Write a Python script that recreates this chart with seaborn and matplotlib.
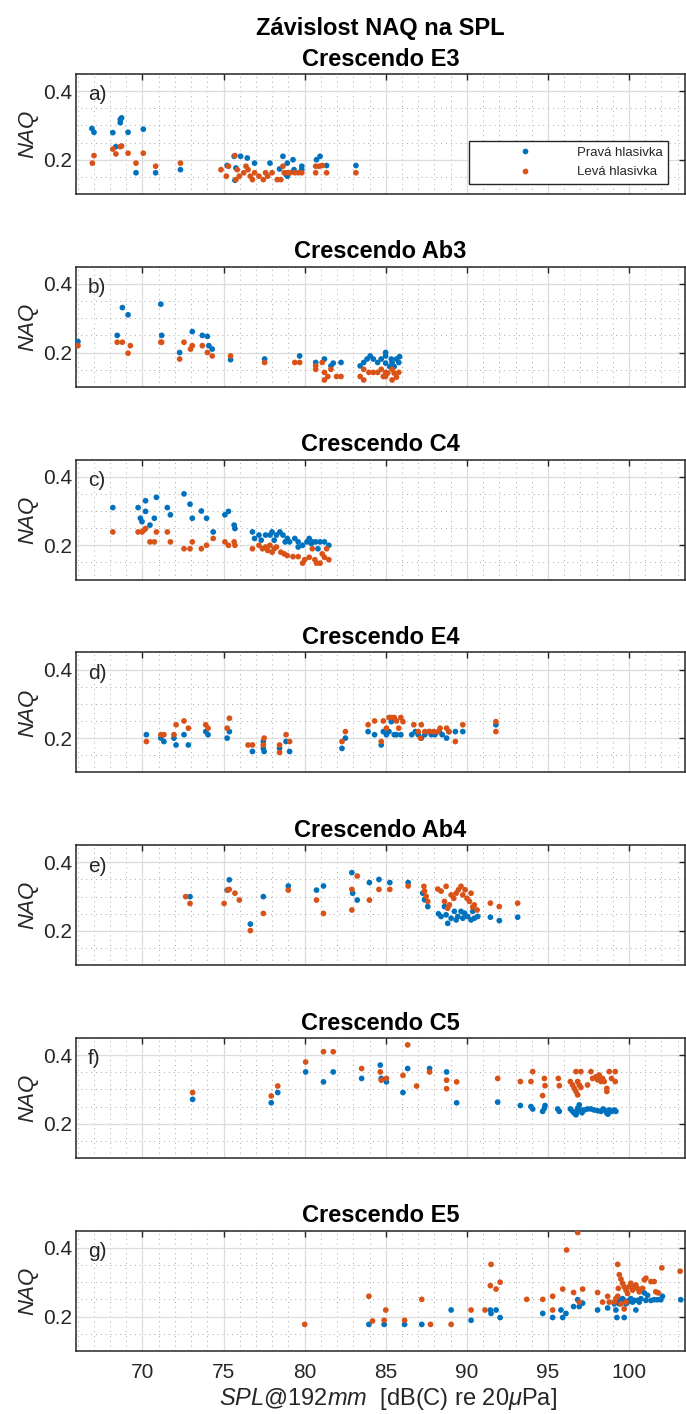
import matplotlib
matplotlib.use("Agg")
import matplotlib.pyplot as plt
from matplotlib.ticker import FixedLocator, MultipleLocator
import numpy as np
import pandas as pd
import seaborn as sns

# ---------------- data ----------------
suptitle_text = "Závislost NAQ na SPL"
panel_titles = ["Crescendo E3", "Crescendo Ab3", "Crescendo C4", "Crescendo E4",
                "Crescendo Ab4", "Crescendo C5", "Crescendo E5"]
panel_letters = ["a)", "b)", "c)", "d)", "e)", "f)", "g)"]
series_names = ["Pravá hlasivka", "Levá hlasivka"]
x_ticks = [70, 75, 80, 85, 90, 95, 100]
y_ticks = [0.2, 0.4]

# --- a) Crescendo E3
e3_prava_x = [66.88, 67.01, 68.17, 68.36, 68.63, 68.71, 68.63, 69.11, 69.6, 70.05, 70.81, 72.34,
              75.22, 75.70, 75.65, 76.05, 76.46, 76.91, 75.76, 77.86, 78.45, 78.66, 78.93, 79.28,
              78.85, 79.34, 79.82, 79.82, 80.73, 80.95, 81.35, 83.16, 78.93]
e3_prava_y = [0.291, 0.280, 0.279, 0.238, 0.317, 0.322, 0.308, 0.280, 0.162, 0.289, 0.162, 0.171,
              0.183, 0.140, 0.210, 0.210, 0.205, 0.190, 0.176, 0.190, 0.173, 0.210, 0.190, 0.200,
              0.157, 0.171, 0.181, 0.171, 0.200, 0.210, 0.183, 0.183, 0.152]
e3_leva_x = [66.91, 67.01, 68.17, 68.36, 68.63, 68.71, 69.11, 69.6, 70.05, 70.81, 72.34,
             74.84, 75.17, 75.30, 75.70, 75.84, 75.97, 75.76, 76.24, 76.38, 76.51, 76.65, 76.78,
             76.91, 77.18, 77.45, 77.59, 77.72, 77.99, 78.31, 78.53, 78.66, 78.74, 78.93, 79.12,
             79.39, 79.60, 79.82, 80.68, 80.90, 80.68, 81.35, 81.08, 83.16]
e3_leva_y = [0.190, 0.212, 0.231, 0.217, 0.238, 0.240, 0.219, 0.190, 0.219, 0.181, 0.190,
             0.171, 0.152, 0.181, 0.212, 0.171, 0.152, 0.142, 0.162, 0.181, 0.171, 0.152, 0.142,
             0.162, 0.152, 0.142, 0.162, 0.152, 0.162, 0.142, 0.142, 0.181, 0.162, 0.162, 0.162,
             0.162, 0.162, 0.162, 0.181, 0.181, 0.162, 0.162, 0.183, 0.162]

# --- b) Crescendo Ab3
ab3_prava_x = [66.02, 68.44, 68.76, 69.11, 71.13, 71.18, 72.29, 73.07, 73.69, 74.0, 74.09, 74.3,
               75.43, 77.53, 79.69, 80.68, 81.22, 81.62, 82.24, 81.76, 83.42, 83.64, 83.85, 84.04,
               84.23, 84.5, 84.72, 84.99, 84.99, 85.34, 85.39, 85.66, 85.8, 85.85, 85.52, 85.25, 84.99]
ab3_prava_y = [0.232, 0.250, 0.331, 0.310, 0.341, 0.250, 0.200, 0.261, 0.250, 0.247, 0.220, 0.210,
               0.179, 0.181, 0.190, 0.171, 0.181, 0.161, 0.171, 0.169, 0.161, 0.171, 0.181, 0.190,
               0.181, 0.171, 0.181, 0.190, 0.200, 0.181, 0.171, 0.181, 0.171, 0.188, 0.159, 0.159, 0.169]
ab3_leva_x = [66.02, 68.44, 68.76, 69.11, 69.25, 71.13, 71.18, 72.29, 72.56, 72.96, 73.07, 73.69,
              74.0, 74.3, 75.43, 77.53, 79.39, 79.69, 80.68, 80.68, 81.08, 81.22, 81.22, 81.43,
              81.62, 81.97, 82.24, 83.42, 83.64, 83.64, 83.96, 84.23, 84.5, 84.72, 84.99, 84.99,
              85.12, 85.52, 85.8, 85.39, 84.85, 85.66, 85.39]
ab3_leva_y = [0.220, 0.230, 0.230, 0.198, 0.220, 0.230, 0.230, 0.181, 0.230, 0.210, 0.220, 0.220,
              0.200, 0.190, 0.190, 0.171, 0.171, 0.171, 0.161, 0.151, 0.171, 0.142, 0.120, 0.130,
              0.151, 0.130, 0.130, 0.130, 0.120, 0.151, 0.142, 0.142, 0.142, 0.151, 0.142, 0.130,
              0.140, 0.140, 0.142, 0.151, 0.130, 0.128, 0.120]

# --- c) Crescendo C4
c4_prava_x = [68.17, 69.73, 69.87, 70.19, 70.19, 69.97, 70.46, 70.73, 70.86, 71.53, 71.72, 72.56,
              72.93, 73.07, 73.63, 73.95, 74.36, 75.08, 75.30, 75.65, 75.70, 76.78, 76.91, 77.18,
              77.59, 77.86, 77.99, 78.26, 78.47, 78.66, 78.93, 79.07, 79.39, 79.60, 79.87, 80.14,
              80.28, 80.47, 80.68, 80.95, 81.22, 81.49, 80.82, 80.41, 78.80, 78.12, 77.32, 79.60]
c4_prava_y = [0.310, 0.310, 0.279, 0.330, 0.299, 0.269, 0.259, 0.279, 0.340, 0.310, 0.289, 0.350,
              0.320, 0.279, 0.300, 0.279, 0.239, 0.289, 0.299, 0.259, 0.249, 0.239, 0.220, 0.230,
              0.230, 0.230, 0.239, 0.230, 0.239, 0.230, 0.220, 0.210, 0.220, 0.210, 0.200, 0.210,
              0.220, 0.210, 0.210, 0.210, 0.210, 0.200, 0.190, 0.205, 0.210, 0.215, 0.215, 0.195]
c4_leva_x = [68.17, 69.73, 69.97, 70.19, 70.08, 70.46, 70.73, 70.86, 71.53, 71.72, 72.56, 72.93,
             73.07, 73.63, 73.95, 74.36, 75.08, 75.30, 75.65, 75.70, 76.78, 77.18, 77.40, 77.59,
             77.72, 77.86, 77.99, 78.12, 78.26, 78.53, 78.74, 78.93, 79.28, 79.60, 79.87, 80.00,
             80.28, 80.47, 80.63, 80.73, 80.95, 81.08, 81.22, 81.49, 81.35]
c4_leva_y = [0.239, 0.239, 0.239, 0.249, 0.244, 0.210, 0.210, 0.239, 0.239, 0.210, 0.190, 0.190,
             0.210, 0.190, 0.200, 0.220, 0.210, 0.200, 0.210, 0.200, 0.190, 0.200, 0.190, 0.195,
             0.185, 0.200, 0.180, 0.190, 0.195, 0.180, 0.175, 0.170, 0.167, 0.167, 0.148, 0.158,
             0.165, 0.190, 0.158, 0.148, 0.148, 0.175, 0.165, 0.158, 0.190]

# --- d) Crescendo E4
e4_prava_x = [70.24, 71.13, 71.32, 71.94, 72.07, 72.56, 72.83, 73.90, 74.04, 75.22, 75.36, 76.78,
              77.45, 77.45, 77.50, 78.45, 78.85, 79.07, 82.30, 82.51, 83.91, 84.31, 84.72, 84.85,
              85.04, 85.34, 85.20, 85.52, 85.66, 85.93, 86.60, 86.82, 87.00, 87.19, 87.41, 87.68,
              87.81, 88.03, 88.30, 88.48, 88.75, 88.89, 89.29, 89.75, 91.79]
e4_prava_y = [0.210, 0.200, 0.190, 0.200, 0.180, 0.210, 0.180, 0.219, 0.210, 0.200, 0.219, 0.161,
              0.190, 0.170, 0.161, 0.170, 0.190, 0.161, 0.170, 0.200, 0.219, 0.210, 0.180, 0.219,
              0.210, 0.248, 0.219, 0.210, 0.210, 0.210, 0.210, 0.219, 0.210, 0.200, 0.210, 0.219,
              0.210, 0.210, 0.219, 0.210, 0.200, 0.219, 0.219, 0.219, 0.239]
e4_leva_x = [70.24, 71.13, 71.32, 71.94, 72.07, 72.56, 72.83, 73.90, 74.04, 75.22, 75.36, 76.51,
             76.78, 77.45, 77.50, 78.45, 78.45, 78.85, 79.07, 82.30, 82.51, 83.91, 84.31, 84.72,
             84.85, 85.04, 85.20, 85.34, 85.52, 85.66, 85.80, 85.93, 86.06, 86.73, 87.00, 87.14,
             87.19, 87.41, 87.68, 87.95, 88.21, 88.35, 88.75, 88.89, 89.29, 89.75, 91.79, 91.79]
e4_leva_y = [0.190, 0.210, 0.210, 0.210, 0.239, 0.250, 0.229, 0.239, 0.229, 0.229, 0.258, 0.180,
             0.180, 0.180, 0.200, 0.158, 0.180, 0.210, 0.190, 0.190, 0.219, 0.239, 0.250, 0.190,
             0.250, 0.229, 0.260, 0.260, 0.260, 0.250, 0.229, 0.260, 0.248, 0.239, 0.219, 0.200,
             0.239, 0.219, 0.219, 0.219, 0.219, 0.229, 0.229, 0.219, 0.190, 0.239, 0.248, 0.219]

# --- e) Crescendo Ab4
ab4_prava_x = [72.93, 75.35, 75.22, 76.65, 77.45, 78.99, 80.73, 81.16, 82.91, 82.96, 83.24, 83.99,
               84.58, 85.25, 86.38, 87.28, 87.39, 87.59, 88.25, 88.41, 88.62, 88.82, 88.72, 89.03,
               89.23, 89.34, 89.44, 89.64, 89.75, 89.85, 90.05, 90.26, 90.36, 90.46, 90.67, 91.45,
               92.00, 93.13]
ab4_prava_y = [0.300, 0.349, 0.319, 0.220, 0.300, 0.331, 0.319, 0.331, 0.370, 0.310, 0.290, 0.341,
               0.350, 0.341, 0.341, 0.310, 0.291, 0.271, 0.250, 0.242, 0.271, 0.222, 0.247, 0.237,
               0.257, 0.232, 0.242, 0.257, 0.237, 0.252, 0.242, 0.232, 0.257, 0.237, 0.242, 0.240,
               0.230, 0.240]
ab4_leva_x = [72.66, 72.93, 75.03, 75.25, 75.35, 75.70, 75.97, 76.65, 77.45, 78.99, 80.73, 81.16,
              82.91, 82.91, 83.24, 83.99, 84.58, 85.25, 86.38, 87.35, 87.39, 87.49, 87.59, 88.21,
              88.41, 88.62, 88.72, 88.82, 88.92, 89.03, 89.19, 89.34, 89.48, 89.64, 89.75, 89.89,
              90.01, 90.16, 90.26, 90.36, 90.46, 90.63, 91.45, 92.00, 93.13]
ab4_leva_y = [0.300, 0.280, 0.280, 0.319, 0.321, 0.310, 0.290, 0.201, 0.251, 0.319, 0.290, 0.251,
              0.321, 0.261, 0.360, 0.290, 0.321, 0.321, 0.331, 0.330, 0.316, 0.301, 0.286, 0.322,
              0.316, 0.286, 0.330, 0.266, 0.276, 0.305, 0.295, 0.310, 0.320, 0.330, 0.305, 0.320,
              0.295, 0.286, 0.310, 0.270, 0.276, 0.261, 0.281, 0.271, 0.281]

# --- f) Crescendo C5
c5_prava_x = [73.09, 77.94, 78.34, 80.06, 81.16, 81.76, 83.51, 84.66, 84.72, 85.04, 86.06, 86.35,
              87.70, 88.75, 89.37, 91.90, 93.30, 93.95, 94.06, 94.67, 94.78, 94.82, 95.60, 95.70,
              96.38, 96.52, 96.62, 96.73, 96.83, 96.93, 97.03, 97.24, 97.44, 97.65, 97.85, 98.06,
              98.27, 98.47, 98.63, 98.78, 98.92, 99.09, 99.19, 96.80, 97.10, 98.40, 98.70]
c5_prava_y = [0.271, 0.261, 0.291, 0.351, 0.322, 0.351, 0.332, 0.371, 0.332, 0.322, 0.291, 0.361,
              0.361, 0.351, 0.261, 0.263, 0.253, 0.250, 0.243, 0.236, 0.245, 0.253, 0.243, 0.236,
              0.243, 0.236, 0.231, 0.226, 0.245, 0.255, 0.240, 0.240, 0.243, 0.243, 0.240, 0.238,
              0.236, 0.240, 0.231, 0.240, 0.236, 0.240, 0.236, 0.235, 0.232, 0.243, 0.228]
c5_leva_x = [73.09, 77.94, 78.34, 80.06, 81.16, 81.76, 83.51, 84.66, 84.72, 85.04, 86.06, 86.35,
             86.90, 87.70, 88.75, 88.75, 89.37, 91.90, 93.30, 93.95, 94.06, 94.78, 94.82, 94.67,
             95.64, 95.70, 96.38, 96.52, 96.62, 96.73, 97.03, 96.83, 96.93, 96.73, 96.83, 97.03,
             97.44, 97.65, 97.75, 97.96, 98.06, 98.16, 98.27, 98.37, 98.47, 98.63, 98.63, 98.78,
             98.92, 99.15, 99.15]
c5_leva_y = [0.291, 0.281, 0.310, 0.380, 0.410, 0.410, 0.361, 0.351, 0.327, 0.332, 0.341, 0.430,
             0.310, 0.351, 0.327, 0.302, 0.322, 0.332, 0.323, 0.323, 0.352, 0.332, 0.311, 0.282,
             0.332, 0.311, 0.323, 0.313, 0.303, 0.352, 0.352, 0.323, 0.313, 0.294, 0.284, 0.306,
             0.313, 0.352, 0.332, 0.337, 0.328, 0.342, 0.323, 0.332, 0.323, 0.303, 0.294, 0.352,
             0.332, 0.352, 0.323]

# --- g) Crescendo E5
e5_prava_x = [83.96, 84.90, 86.16, 87.22, 89.03, 90.26, 91.45, 91.49, 91.80, 92.05, 94.68, 95.29,
              95.80, 95.91, 96.11, 96.58, 96.83, 96.93, 97.14, 98.06, 98.68, 99.09, 99.19, 99.25,
              99.29, 99.40, 99.50, 99.60, 99.70, 99.70, 99.81, 99.91, 100.01, 100.11, 100.22,
              100.32, 100.42, 100.52, 100.63, 100.73, 100.94, 101.04, 101.14, 101.35, 101.55,
              101.75, 101.96, 102.06, 103.19]
e5_prava_y = [0.177, 0.177, 0.177, 0.177, 0.219, 0.189, 0.219, 0.209, 0.219, 0.197, 0.209, 0.197,
              0.219, 0.197, 0.209, 0.229, 0.249, 0.229, 0.239, 0.219, 0.225, 0.237, 0.219, 0.197,
              0.247, 0.237, 0.247, 0.252, 0.247, 0.197, 0.237, 0.242, 0.247, 0.252, 0.242,
              0.247, 0.219, 0.247, 0.242, 0.252, 0.269, 0.247, 0.262, 0.247, 0.249,
              0.249, 0.249, 0.259, 0.249]
e5_leva_x = [80.00, 83.96, 84.18, 84.90, 85.00, 86.16, 87.22, 87.76, 89.03, 90.26, 91.12, 91.45,
             91.49, 91.80, 92.05, 93.69, 94.68, 95.29, 95.29, 95.91, 96.15, 96.58, 96.83, 96.93,
             97.14, 98.06, 98.37, 98.68, 99.30, 99.40, 99.50, 99.60, 99.70, 99.81, 99.91, 100.01,
             100.11, 100.22, 100.32, 100.42, 100.52, 100.63, 100.83, 100.94, 101.04, 101.35,
             101.55, 101.65, 101.80, 102.02, 103.15, 99.34, 99.30, 99.50, 99.70, 99.81, 99.09,
             98.78, 99.19]
e5_leva_y = [0.177, 0.259, 0.187, 0.189, 0.219, 0.189, 0.250, 0.177, 0.177, 0.219, 0.219, 0.290,
             0.352, 0.280, 0.300, 0.250, 0.250, 0.259, 0.219, 0.280, 0.394, 0.270, 0.445, 0.242,
             0.280, 0.270, 0.242, 0.259, 0.352, 0.322, 0.309, 0.297, 0.287, 0.277, 0.267, 0.287,
             0.297, 0.277, 0.287, 0.292, 0.282, 0.272, 0.282, 0.307, 0.312, 0.302,
             0.302, 0.272, 0.269, 0.342, 0.332, 0.282, 0.259, 0.237, 0.222, 0.242, 0.242,
             0.242, 0.252]

panels = [
    (e3_prava_x, e3_prava_y, e3_leva_x, e3_leva_y),
    (ab3_prava_x, ab3_prava_y, ab3_leva_x, ab3_leva_y),
    (c4_prava_x, c4_prava_y, c4_leva_x, c4_leva_y),
    (e4_prava_x, e4_prava_y, e4_leva_x, e4_leva_y),
    (ab4_prava_x, ab4_prava_y, ab4_leva_x, ab4_leva_y),
    (c5_prava_x, c5_prava_y, c5_leva_x, c5_leva_y),
    (e5_prava_x, e5_prava_y, e5_leva_x, e5_leva_y),
]

# ---------------- style ----------------
sns.set_style("white")
plt.rcParams["font.family"] = ["Liberation Sans", "DejaVu Sans"]
plt.rcParams["mathtext.fontset"] = "custom"
plt.rcParams["mathtext.rm"] = "Liberation Sans"
plt.rcParams["mathtext.it"] = "Liberation Sans:italic"
plt.rcParams["mathtext.bf"] = "Liberation Sans:bold"

BLUE = "#0072BD"
ORANGE = "#D95319"
DARK = "#262626"
palette = {series_names[0]: BLUE, series_names[1]: ORANGE}

W, H = 686, 1414
fig = plt.figure(figsize=(W / 100, H / 100), dpi=100)

ax_left_px, ax_right_px = 76, 685
ax_h_px = 120
tops_px = [74 + 192.8 * i for i in range(7)]

axes = []
for i, (px, py, lx, ly) in enumerate(panels):
    top = tops_px[i]
    ax = fig.add_axes([ax_left_px / W, 1 - (top + ax_h_px) / H,
                       (ax_right_px - ax_left_px) / W, ax_h_px / H])
    df = pd.DataFrame({
        "SPL": list(px) + list(lx),
        "NAQ": list(py) + list(ly),
        "strana": [series_names[0]] * len(px) + [series_names[1]] * len(lx),
    })
    sns.scatterplot(data=df, x="SPL", y="NAQ", hue="strana", hue_order=series_names,
                    palette=palette, s=17, linewidth=0, edgecolor="none",
                    ax=ax, legend=(i == 0), zorder=3)
    ax.set_xlim(65.9, 103.45)
    ax.set_ylim(0.1, 0.45)
    ax.xaxis.set_major_locator(FixedLocator(x_ticks))
    ax.xaxis.set_minor_locator(MultipleLocator(1))
    ax.yaxis.set_major_locator(FixedLocator(y_ticks))
    ax.yaxis.set_minor_locator(MultipleLocator(0.05))
    ax.set_yticklabels([f"{t:.1f}" for t in y_ticks])
    ax.grid(which="major", color="#dcdcdc", lw=0.9, ls="-")
    ax.grid(which="minor", color="#a8a8a8", lw=0.7, ls=(0, (1, 4)))
    ax.set_axisbelow(True)
    ax.tick_params(which="major", direction="in", length=4, width=1.0, color=DARK,
                   top=True, right=True, labelsize=15, labelcolor=DARK)
    ax.tick_params(axis="x", which="major", pad=8.5)
    ax.tick_params(axis="y", which="major", pad=3)
    ax.tick_params(which="minor", length=0)
    for sp in ax.spines.values():
        sp.set_color(DARK)
        sp.set_linewidth(1.1)
    ax.set_title(panel_titles[i], fontsize=17, fontweight="bold", pad=6, color="black")
    ax.text(0.02, 0.905, panel_letters[i], transform=ax.transAxes, fontsize=15,
            ha="left", va="top", color=DARK)
    ax.set_ylabel("NAQ", fontsize=16, fontstyle="italic", color=DARK)
    ax.yaxis.set_label_coords(-0.0624, 0.5)
    if i < 6:
        ax.set_xlabel("")
        ax.tick_params(axis="x", labelbottom=False)
    else:
        ax.set_xlabel(r"$\mathit{SPL@192mm}$  [dB(C) re 20$\mu$Pa]", fontsize=17, color=DARK)
        ax.xaxis.set_label_coords(0.5115, -0.29)
    axes.append(ax)

# legend in panel a
ax0 = axes[0]
handles, labels = ax0.get_legend_handles_labels()
leg = ax0.legend(handles, labels, loc="lower right", bbox_to_anchor=(0.9726, 0.0815),
                 borderaxespad=0, fontsize=9.5, frameon=True, fancybox=False,
                 edgecolor=DARK, framealpha=1, handlelength=7.5, handletextpad=0.2,
                 labelspacing=0.55, borderpad=0.45)
leg.get_frame().set_linewidth(1.0)
for t in leg.get_texts():
    t.set_color(DARK)

fig.text((ax_left_px + ax_right_px) / 2 / W, 1 - 35 / H, suptitle_text,
         fontsize=17, fontweight="bold", ha="center", va="baseline", color="black")

fig.savefig("out.png", dpi=100)
